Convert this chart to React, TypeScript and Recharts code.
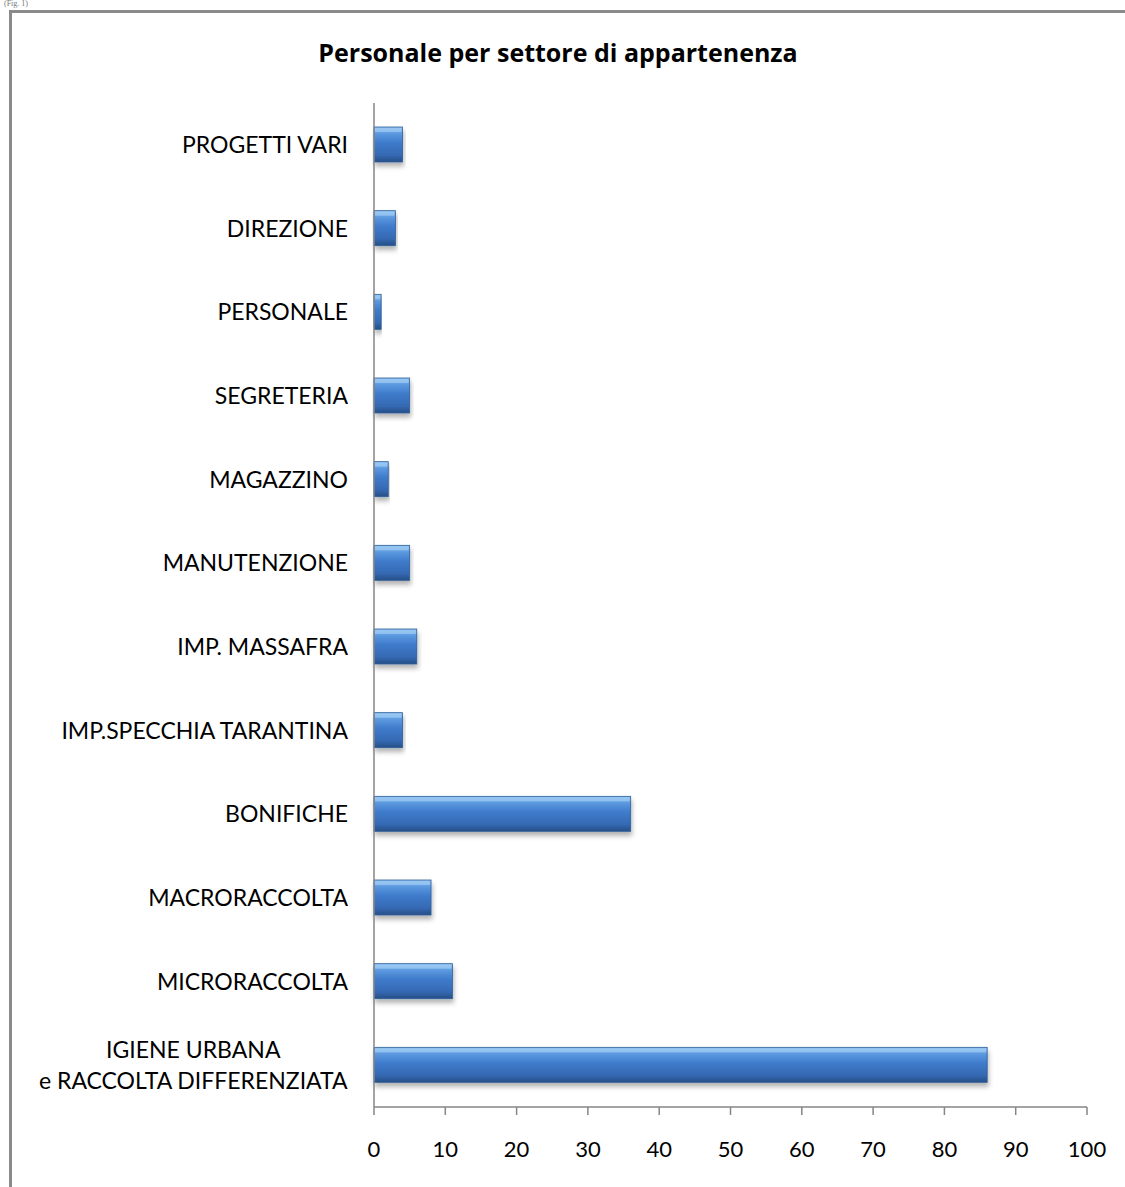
import { BarChart, Bar, XAxis, YAxis } from 'recharts';

const categories = [
  'PROGETTI VARI',
  'DIREZIONE',
  'PERSONALE',
  'SEGRETERIA',
  'MAGAZZINO',
  'MANUTENZIONE',
  'IMP. MASSAFRA',
  'IMP.SPECCHIA TARANTINA',
  'BONIFICHE',
  'MACRORACCOLTA',
  'MICRORACCOLTA',
  'IGIENE URBANA\ne RACCOLTA DIFFERENZIATA',
];
const staff = [4, 3, 1, 5, 2, 5, 6, 4, 36, 8, 11, 86];
const xTicks = [0, 10, 20, 30, 40, 50, 60, 70, 80, 90, 100];

const data = categories.map((name, i) => ({ name, value: staff[i] }));

const FONT = 'Lato, "Open Sans", sans-serif';
const TITLE_FONT = '"Open Sans", Lato, sans-serif';
const LABEL_SIZE = 23;

function measure(text: string) {
  const ctx = document.createElement('canvas').getContext('2d');
  if (!ctx) return text.length * LABEL_SIZE * 0.55;
  ctx.font = `${LABEL_SIZE}px ${FONT}`;
  return ctx.measureText(text).width;
}

function CategoryTick({ x, y, payload }: any) {
  const lines: string[] = String(payload.value).split('\n');
  if (lines.length === 1) {
    return (
      <text x={x} y={y} dy="0.35em" textAnchor="end" fontSize={LABEL_SIZE} fontFamily={FONT} fill="#000">
        {lines[0]}
      </text>
    );
  }
  // multi-line labels: lines centred on each other, block right-aligned
  const widest = Math.max(...lines.map(measure));
  const cx = x - widest / 2;
  const lh = 31;
  const top = y - ((lines.length - 1) * lh) / 2;
  return (
    <text textAnchor="middle" fontSize={LABEL_SIZE} fontFamily={FONT} fill="#000">
      {lines.map((l, i) => (
        <tspan key={i} x={cx} y={top + i * lh} dy="0.35em">
          {l}
        </tspan>
      ))}
    </text>
  );
}

function GlossyBar({ x, y, width, height }: any) {
  if (!width || width <= 0) return null;
  return (
    <g>
      <rect x={x} y={y} width={width} height={height} fill="url(#barGrad)" stroke="#2f5e98" strokeWidth={0.8} filter="url(#barShadow)" />
      <rect x={x + 1} y={y + 1} width={Math.max(width - 2, 0)} height={4} fill="#9fccf4" opacity={0.7} />
    </g>
  );
}

export default function App() {
  return (
    <div style={{ position: 'absolute', left: 0, top: 0, width: 1125, height: 1187, overflow: 'hidden', background: '#fff' }}>
      <div style={{ position: 'absolute', left: 4, top: 0, fontFamily: 'serif', fontSize: 8, lineHeight: 1, color: '#777' }}>(Fig. 1)</div>
      <div
        style={{
          position: 'absolute',
          left: 9,
          top: 10,
          width: 1200,
          height: 1300,
          border: '3px solid #8a8a8a',
        }}
      />
      <div
        style={{
          position: 'absolute',
          left: 0,
          width: 1116,
          top: 35,
          textAlign: 'center',
          fontFamily: TITLE_FONT,
          fontWeight: 'bold',
          fontSize: 25,
          color: '#000',
        }}
      >
        Personale per settore di appartenenza
      </div>
      <div style={{ position: 'absolute', left: 0, top: 0 }}>
        <BarChart
          width={1125}
          height={1187}
          data={data}
          layout="vertical"
          margin={{ top: 103, right: 38, bottom: 20, left: 0 }}
        >
          <defs>
            <linearGradient id="barGrad" x1="0" y1="0" x2="0" y2="1">
              <stop offset="0%" stopColor="#8ec3f2" />
              <stop offset="18%" stopColor="#5d9ae0" />
              <stop offset="45%" stopColor="#3f7bcb" />
              <stop offset="80%" stopColor="#3569b3" />
              <stop offset="100%" stopColor="#264f86" />
            </linearGradient>
            <filter id="barShadow" x="-5%" y="-20%" width="115%" height="160%">
              <feDropShadow dx="1" dy="4" stdDeviation="2.5" floodColor="#000" floodOpacity="0.3" />
            </filter>
          </defs>
          <XAxis
            type="number"
            domain={[0, 100]}
            ticks={xTicks}
            interval={0}
            height={60}
            axisLine={{ stroke: '#868686', strokeWidth: 1.5 }}
            tickLine={{ stroke: '#868686', strokeWidth: 1.5 }}
            tickSize={8}
            tickMargin={26}
            tick={{ fill: '#000', fontSize: 22, fontFamily: FONT }}
          />
          <YAxis
            type="category"
            dataKey="name"
            width={374}
            interval={0}
            axisLine={{ stroke: '#868686', strokeWidth: 1.5 }}
            tickLine={false}
            tickSize={0}
            tickMargin={26}
            tick={<CategoryTick />}
          />
          <Bar dataKey="value" barSize={35} isAnimationActive={false} shape={<GlossyBar />} />
        </BarChart>
      </div>
    </div>
  );
}
